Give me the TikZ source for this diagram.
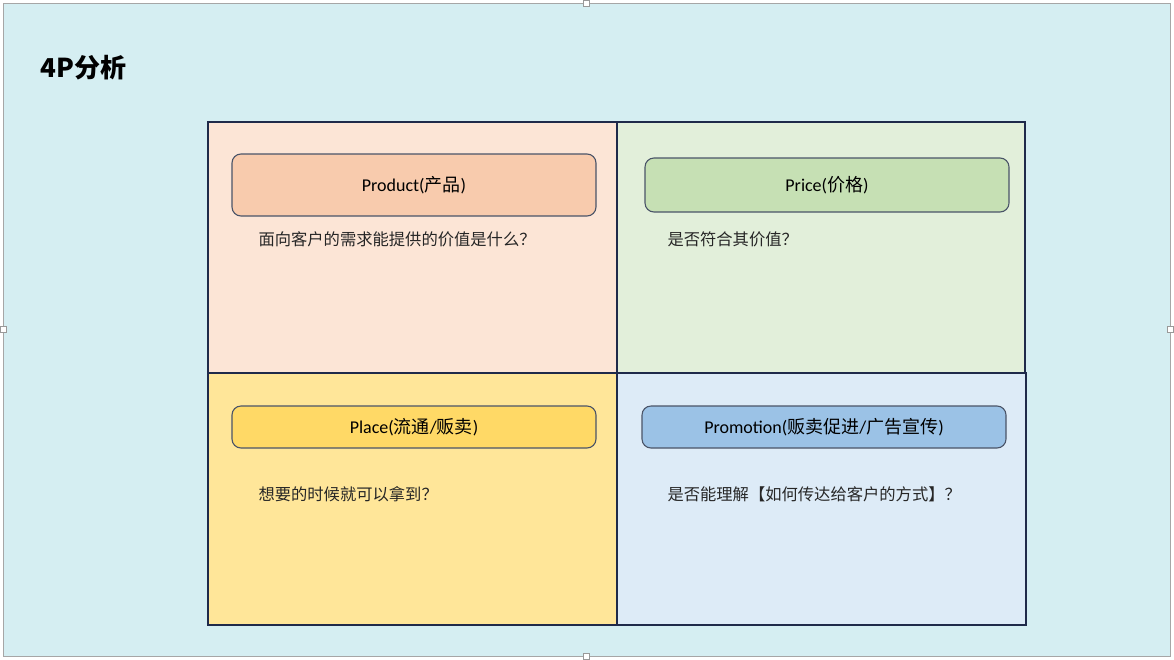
\documentclass[tikz,border=0pt]{standalone}
\usepackage{fontspec}
\setmainfont{Carlito}
\newfontfamily\cjk{Noto Sans CJK SC}
\begin{document}
\begin{tikzpicture}[x=1pt,y=-1pt,
  quad/.style={draw=quadline, line width=1.1pt},
  tag/.style={draw=tagline, line width=1.1pt, rounded corners=9pt},
  tagtext/.style={font=\fontsize{18}{21}\selectfont, text=black},
  note/.style={anchor=west, font=\cjk\fontsize{16.3}{19}\selectfont, text=black!85},
  handle/.style={draw=gray!80, fill=white, line width=0.6pt, minimum size=6pt, inner sep=0pt}]
\definecolor{bgblue}{HTML}{D5EEF2}
\definecolor{quadline}{HTML}{1F2A4A}
\definecolor{tagline}{HTML}{4A5468}
\definecolor{tlfill}{HTML}{FCE5D6}
\definecolor{tlbox}{HTML}{F8CBAD}
\definecolor{trfill}{HTML}{E2EFDA}
\definecolor{trbox}{HTML}{C6E0B4}
\definecolor{blfill}{HTML}{FFE699}
\definecolor{blbox}{HTML}{FFD966}
\definecolor{brfill}{HTML}{DDEBF7}
\definecolor{brbox}{HTML}{9BC2E6}
\useasboundingbox (0,0) rectangle (1174,659);
\fill[white] (0,0) rectangle (1174,659);
% slide background
\draw[fill=bgblue, draw=gray!70, line width=1pt] (3,3) rectangle (1170,656);
% title
\node[anchor=west, font=\cjk\bfseries\fontsize{26}{30}\selectfont] (title) at (37,68) {4P分析};
% quadrants
\draw[quad, fill=tlfill] (208,122) rectangle (617,373);
\draw[quad, fill=trfill] (617,122) rectangle (1025,373);
\draw[quad, fill=blfill] (208,373) rectangle (617,625);
\draw[quad, fill=brfill] (617,373) rectangle (1026,625);
% headline boxes
\draw[tag, fill=tlbox] (232,154) rectangle (596,216);
\draw[tag, fill=trbox] (645,158) rectangle (1009,212);
\draw[tag, fill=blbox] (232,406) rectangle (596,448);
\draw[tag, fill=brbox] (642,406) rectangle (1006,448);
\node[tagtext] (product) at (414,185) {Product({\cjk 产品})};
\node[tagtext] (price) at (827,185) {Price({\cjk 价格})};
\node[tagtext] (place) at (414,427) {Place({\cjk 流通}/{\cjk 贩卖})};
\node[tagtext] (promo) at (824,427) {Promotion({\cjk 贩卖促进}/{\cjk 广告宣传})};
% questions
\node[note] (q1) at (255,239) {面向客户的需求能提供的价值是什么？};
\node[note] (q2) at (664,239) {是否符合其价值？};
\node[note] (q3) at (255,494) {想要的时候就可以拿到？};
\node[note] (q4) at (664,494) {是否能理解【如何传达给客户的方式】？};
% selection handles
\node[handle] (h1) at (586,3) {};
\node[handle] (h2) at (586,656) {};
\node[handle] (h3) at (3,329) {};
\node[handle] (h4) at (1170,329) {};
\end{tikzpicture}
\end{document}
